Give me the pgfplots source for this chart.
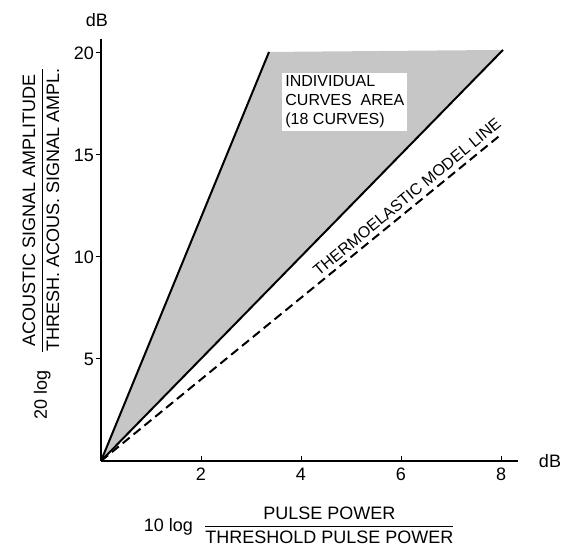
\documentclass[border=0pt]{standalone}
\usepackage{pgfplots}
\pgfplotsset{compat=1.18}
\usepackage{fontspec}
\setmainfont{Liberation Sans}
\begin{document}
\begin{tikzpicture}
\path[use as bounding box] (-50.5pt,-44.5pt) rectangle (235.5pt,230.5pt);
\begin{axis}[
  at={(0pt,0pt)}, anchor=south west,
  x=25pt, y=10.2pt,
  xmin=0, xmax=8.34, ymin=0, ymax=20.7,
  axis x line=bottom, axis y line=left,
  axis line style={-, line width=0.6pt},
  every outer x axis line/.append style={-},
  every outer y axis line/.append style={-},
  every inner x axis line/.append style={-},
  every inner y axis line/.append style={-},
  xtick={2,4,6,8}, ytick={5,10,15,20},
  tick align=inside, major tick length=2.5pt,
  every tick/.append style={black, line width=0.5pt},
  every y tick/.append style={xshift=-2.5pt},
  tick label style={font=\fontsize{9}{10}\selectfont},
  /pgf/number format/assume math mode=true,
  clip=false,
  xlabel={10 log\hspace{5pt}$\displaystyle\frac{\mbox{PULSE POWER}}{\mbox{THRESHOLD PULSE POWER}}$},
  xlabel style={at={(axis description cs:0.477,-0.152)}, anchor=center, font=\fontsize{9}{10}\selectfont},
  ylabel={20 log\hspace{8pt}$\displaystyle\frac{\mbox{ACOUSTIC SIGNAL AMPLITUDE}}{\mbox{THRESH. ACOUS. SIGNAL AMPL.}}$},
  ylabel style={at={(axis description cs:-0.144,0.517)}, anchor=center, font=\fontsize{9}{10}\selectfont},
]
\addplot[fill=gray!45, draw=none] coordinates {(0,0) (3.36,20.05) (8.04,20.15)} -- cycle;
\addplot[black, line width=1pt] coordinates {(0,0) (3.36,20.05)};
\addplot[black, line width=1pt] coordinates {(0,0) (8.04,20.15)};
\addplot[black, line width=1pt, dash pattern=on 4.5pt off 2.5pt] coordinates {(0,0) (8,16)};
\node[fill=white, inner sep=1.5pt, anchor=north west, align=left, font=\fontsize{8}{9.5}\selectfont] at (axis cs:3.62,19.05) {INDIVIDUAL\\CURVES\ \ AREA\\(18 CURVES)};
\node[rotate=39.5, font=\fontsize{8}{9.5}\selectfont] at (axis cs:6.12,12.94) {THERMOELASTIC MODEL LINE};
\node[font=\fontsize{9}{10}\selectfont] at (axis cs:-0.08,21.6) {dB};
\node[font=\fontsize{9}{10}\selectfont] at (axis cs:8.98,0) {dB};
\end{axis}
\end{tikzpicture}
\end{document}
